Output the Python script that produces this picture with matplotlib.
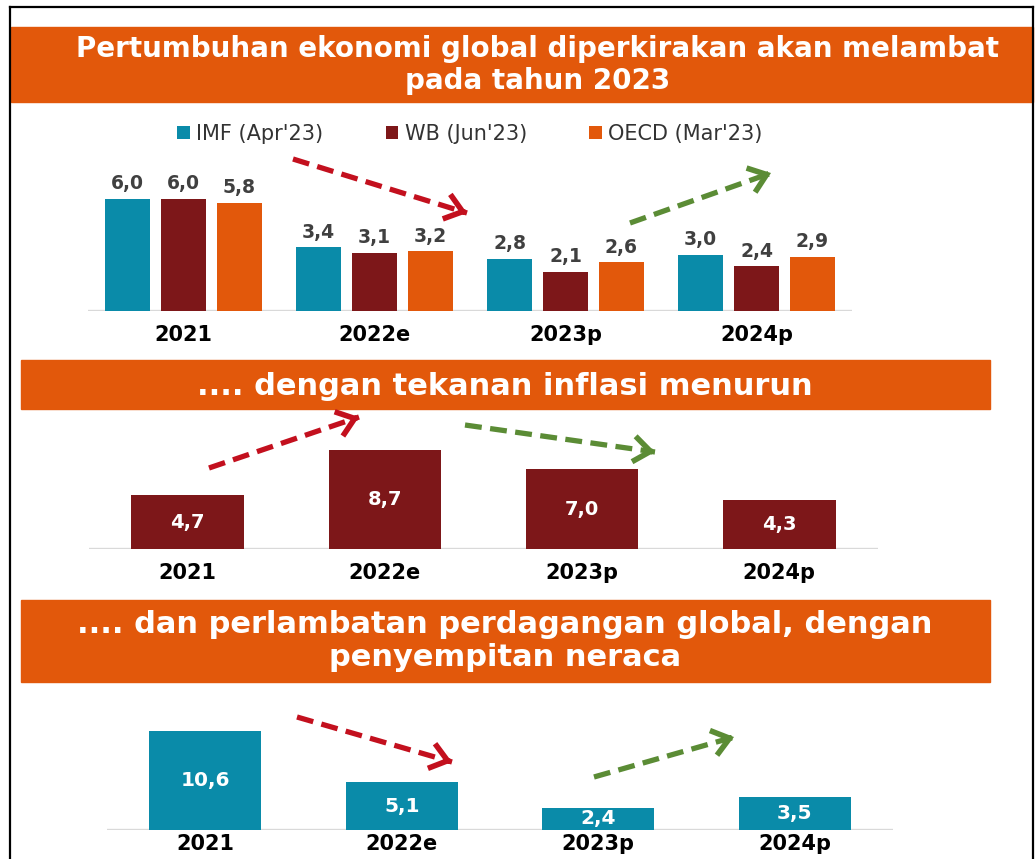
import matplotlib
matplotlib.use("Agg")
import matplotlib.pyplot as plt
import numpy as np
from matplotlib.patches import Rectangle, FancyArrowPatch
from matplotlib.lines import Line2D

# data
years = ['2021', '2022e', '2023p', '2024p']
series_labels = ["IMF (Apr'23)", "WB (Jun'23)", "OECD (Mar'23)"]
gdp_imf = [6.0, 3.4, 2.8, 3.0]
gdp_wb = [6.0, 3.1, 2.1, 2.4]
gdp_oecd = [5.8, 3.2, 2.6, 2.9]
inflation = [4.7, 8.7, 7.0, 4.3]
trade = [10.6, 5.1, 2.4, 3.5]

title_1 = ["Pertumbuhan ekonomi global diperkirakan akan melambat", "pada tahun 2023"]
title_2 = [".... dengan tekanan inflasi menurun"]
title_3 = [".... dan perlambatan perdagangan global, dengan", "penyempitan neraca"]

# colours
ORANGE = '#E2580B'
TEAL = '#0A8BA9'
MAROON = '#7D1719'
RED_ARROW = '#C3101E'
GREEN_ARROW = '#5B8C35'
BASE_GREY = '#D9D9D9'

W, H = 1035, 859
fig = plt.figure(figsize=(W / 100, H / 100), dpi=100)
fig.patch.set_facecolor('white')


def fx(x):
    return x / W


def fy(y):
    return 1 - y / H


def comma(v):
    return f"{v:.1f}".replace('.', ',')


def add_ax(left, right, top, bottom):
    ax = fig.add_axes([fx(left), fy(bottom), (right - left) / W, (bottom - top) / H])
    ax.set_facecolor('none')
    for s in ax.spines.values():
        s.set_visible(False)
    ax.set_yticks([])
    return ax


def banner(x0, x1, y0, y1):
    fig.add_artist(Rectangle((fx(x0), fy(y1)), (x1 - x0) / W, (y1 - y0) / H,
                             transform=fig.transFigure, color=ORANGE, zorder=0))


def arrow(start, tip, color):
    (x0, y0), (x1, y1) = start, tip
    fig.add_artist(Line2D([fx(x0), fx(x1)], [fy(y0), fy(y1)], transform=fig.transFigure,
                          color=color, lw=3.8, ls=(0, (3.2, 1.6)), solid_capstyle='butt'))
    d = np.array([x1 - x0, y1 - y0], dtype=float)
    d /= np.hypot(*d)
    a = (x1 - 3 * d[0], y1 - 3 * d[1])
    fig.add_artist(FancyArrowPatch((fx(a[0]), fy(a[1])), (fx(x1), fy(y1)),
                                   transform=fig.transFigure, color=color, lw=4,
                                   arrowstyle='->,head_length=0.55,head_width=0.42',
                                   mutation_scale=22, shrinkA=0, shrinkB=0,
                                   joinstyle='miter', capstyle='butt'))


def finish_axis(ax, pad=10):
    ax.axhline(0, color=BASE_GREY, lw=2.4, zorder=0)
    ax.set_xticks(range(len(years)), years, fontsize=15, fontweight='bold', color='black')
    ax.tick_params(axis='x', length=0, pad=pad)
    ax.set_xlim(-0.5, len(years) - 0.5)


# -------------------------------
# frame
# -------------------------------
fig.add_artist(Line2D([fx(10), fx(1033)], [fy(7), fy(7)], transform=fig.transFigure, color='black', lw=1.6))
fig.add_artist(Line2D([fx(10), fx(10)], [fy(7), 0], transform=fig.transFigure, color='black', lw=1.6))
fig.add_artist(Line2D([fx(1033), fx(1033)], [fy(7), 0], transform=fig.transFigure, color='black', lw=1.6))

# -------------------------------
# panel 1: GDP growth
# -------------------------------
banner(11, 1033, 27, 102)
fig.text(fx(538), fy(57), title_1[0], ha='center', va='baseline', color='white', fontsize=20, fontweight='bold')
fig.text(fx(538), fy(89), title_1[1], ha='center', va='baseline', color='white', fontsize=20, fontweight='bold')

ax1 = add_ax(88, 852, 150, 311)
x = np.arange(len(years))
bw = 0.236
off = 0.293
for i, (vals, col) in enumerate(zip([gdp_imf, gdp_wb, gdp_oecd], [TEAL, MAROON, ORANGE])):
    b = ax1.bar(x + (i - 1) * off, vals, bw, color=col, label=series_labels[i])
    ax1.bar_label(b, labels=[comma(v) for v in vals], padding=4, fontsize=13.5,
                  fontweight='bold', color='#404040')
ax1.set_ylim(0, 161 / 18.7)
finish_axis(ax1)
ax1.legend(loc='center', bbox_to_anchor=(0.5, 1.099), ncol=3, frameon=False, fontsize=15,
           handlelength=0.6, handleheight=0.6, handletextpad=0.3, columnspacing=3.0,
           labelcolor='#333333')

arrow((293, 159), (467, 213), RED_ARROW)
arrow((630, 223), (771, 173), GREEN_ARROW)

# -------------------------------
# panel 2: inflation
# -------------------------------
banner(21, 990, 360, 409)
fig.text(fx(505), fy(395), title_2[0], ha='center', va='baseline', color='white', fontsize=22, fontweight='bold')

ax2 = add_ax(89, 878, 420, 549)
b = ax2.bar(x, inflation, 0.57, color=MAROON)
ax2.bar_label(b, labels=[comma(v) for v in inflation], label_type='center', fontsize=14,
              fontweight='bold', color='white')
ax2.set_ylim(0, 129 / 11.4)
finish_axis(ax2)

arrow((209, 468), (359, 417), RED_ARROW)
arrow((465, 425), (655, 452), GREEN_ARROW)

# -------------------------------
# panel 3: trade
# -------------------------------
banner(21, 990, 600, 682)
fig.text(fx(505), fy(633), title_3[0], ha='center', va='baseline', color='white', fontsize=22, fontweight='bold')
fig.text(fx(505), fy(666), title_3[1], ha='center', va='baseline', color='white', fontsize=22, fontweight='bold')

ax3 = add_ax(107, 893, 700, 830)
b = ax3.bar(x, trade, 0.57, color=TEAL)
ax3.bar_label(b, labels=[comma(v) for v in trade], label_type='center', fontsize=14.5,
              fontweight='bold', color='white')
ax3.set_ylim(0, 130 / 9.35)
# labels sit at the very bottom edge, nudged up so they stay inside the picture
finish_axis(ax3, pad=3)

arrow((297, 717), (452, 762), RED_ARROW)
arrow((594, 777), (734, 737), GREEN_ARROW)

fig.savefig('out.png', dpi=100)
